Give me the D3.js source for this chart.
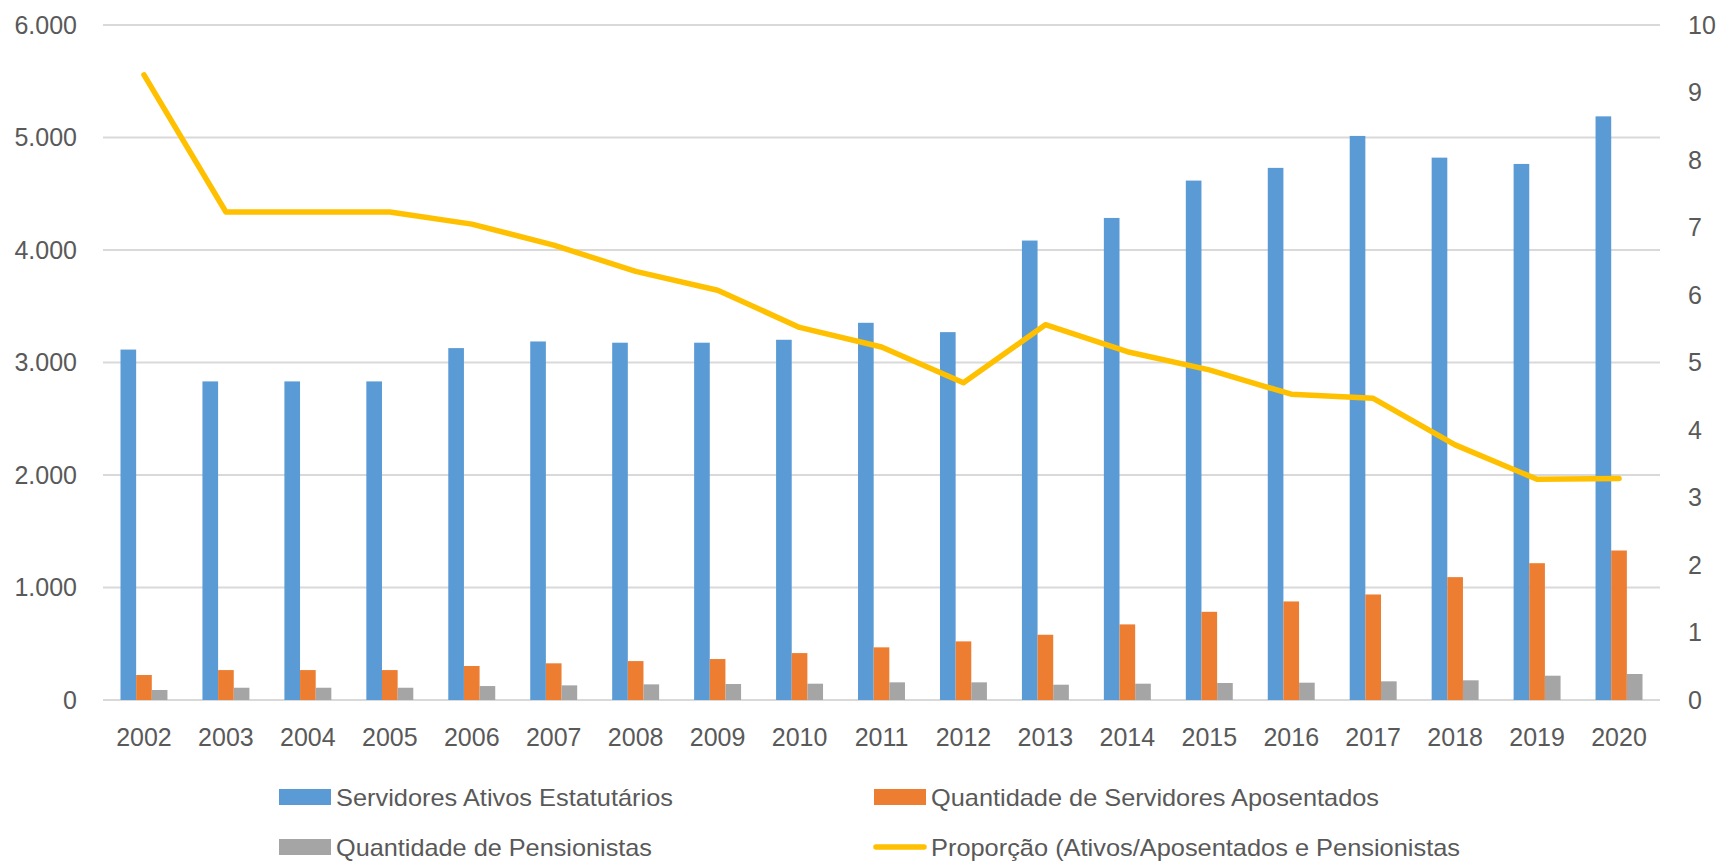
<!DOCTYPE html>
<html>
<head>
<meta charset="utf-8">
<script src="https://cdn.jsdelivr.net/npm/d3@7"></script>
<style>
  body { margin: 0; background: #fff; }
  text { font-family: "Liberation Sans", Arial, sans-serif; fill: #595959; }
</style>
</head>
<body>
<div id="graph_draw"></div>
<script>
// data
var years = ["2002","2003","2004","2005","2006","2007","2008","2009","2010","2011","2012","2013","2014","2015","2016","2017","2018","2019","2020"];
var ativos = [3115,2832,2832,2832,3128,3187,3176,3176,3202,3353,3270,4084,4285,4617,4730,5014,4821,4765,5188];
var aposentados = [222,266,266,266,302,326,346,364,417,468,521,580,672,784,876,938,1092,1216,1329];
var pensionistas = [89,109,109,109,124,130,139,142,145,157,157,136,145,151,154,166,175,216,231];
var proporcao = [9.26,7.23,7.23,7.23,7.05,6.74,6.35,6.07,5.52,5.23,4.70,5.56,5.16,4.89,4.53,4.47,3.78,3.27,3.28];
var leftTicks = [0,1000,2000,3000,4000,5000,6000];
var rightTicks = [0,1,2,3,4,5,6,7,8,9,10];
var seriesNames = ["Servidores Ativos Estatutários","Quantidade de Servidores Aposentados","Quantidade de Pensionistas","Proporção (Ativos/Aposentados e Pensionistas"];

var colors = ["#5B9BD5","#ED7D31","#A5A5A5","#FFC000"];

var W = 1723, H = 861;
var margin = {top: 25, right: 63, bottom: 161, left: 103},
    width = W - margin.left - margin.right,
    height = H - margin.top - margin.bottom;

var svg = d3.select("#graph_draw").append("svg")
    .attr("width", W)
    .attr("height", H);

var g = svg.append("g")
    .attr("transform", "translate(" + margin.left + "," + margin.top + ")");

// scales
var x0 = d3.scaleBand().domain(years).range([0, width]).padding(0);
var groupW = x0.bandwidth() * 0.573;
var x1 = d3.scaleBand().domain([0,1,2]).range([0, groupW]).padding(0);
var y = d3.scaleLinear().domain([0, 6000]).range([height, 0]);
var y2 = d3.scaleLinear().domain([0, 10]).range([height, 0]);

// gridlines
g.selectAll(".grid").data(leftTicks).enter().append("line")
    .attr("x1", 0).attr("x2", width)
    .attr("y1", function(d) { return y(d); })
    .attr("y2", function(d) { return y(d); })
    .attr("stroke", "#d9d9d9")
    .attr("stroke-width", 2);

// left axis
var yAxis = g.append("g")
    .call(d3.axisLeft(y).tickValues(leftTicks).tickSize(0).tickPadding(26)
        .tickFormat(function(d) { return d === 0 ? "0" : d3.format(",")(d).replace(/,/g, "."); }));
yAxis.select(".domain").remove();
yAxis.selectAll("text").style("font-size", "25px").attr("fill", "#595959");

// right axis
var y2Axis = g.append("g")
    .attr("transform", "translate(" + width + ",0)")
    .call(d3.axisRight(y2).tickValues(rightTicks).tickSize(0).tickPadding(28));
y2Axis.select(".domain").remove();
y2Axis.selectAll("text").style("font-size", "25px").attr("fill", "#595959");

// bottom axis
var xAxis = g.append("g")
    .attr("transform", "translate(0," + height + ")")
    .call(d3.axisBottom(x0).tickSize(0).tickPadding(28));
xAxis.select(".domain").remove();
xAxis.selectAll("text").style("font-size", "25px").attr("fill", "#595959");

// bars
var series = [ativos, aposentados, pensionistas];
series.forEach(function(vals, s) {
    g.selectAll(".bar" + s).data(vals).enter().append("rect")
        .attr("x", function(d, i) { return x0(years[i]) + (x0.bandwidth() - groupW) / 2 + x1(s); })
        .attr("width", x1.bandwidth())
        .attr("y", function(d) { return y(d); })
        .attr("height", function(d) { return height - y(d); })
        .attr("fill", colors[s]);
});

// line
var valueline = d3.line()
    .x(function(d, i) { return x0(years[i]) + x0.bandwidth() / 2; })
    .y(function(d) { return y2(d); });

g.append("path")
    .datum(proporcao)
    .attr("d", valueline)
    .attr("fill", "none")
    .attr("stroke", colors[3])
    .attr("stroke-width", 5.5)
    .attr("stroke-linejoin", "round")
    .attr("stroke-linecap", "round");

// legend
var legendItems = [
    {name: seriesNames[0], x: 279, y: 797, len: 337, type: "rect"},
    {name: seriesNames[1], x: 874, y: 797, len: 448, type: "rect"},
    {name: seriesNames[2], x: 279, y: 847, len: 316, type: "rect"},
    {name: seriesNames[3], x: 874, y: 847, len: 529, type: "line"}
];
var colorIdx = [0, 1, 2, 3];
var leg = svg.append("g");
legendItems.forEach(function(d, i) {
    if (d.type === "rect") {
        leg.append("rect").attr("x", d.x).attr("y", d.y - 8).attr("width", 52).attr("height", 16)
            .attr("fill", colors[colorIdx[i]]);
    } else {
        leg.append("line").attr("x1", d.x + 2).attr("x2", d.x + 50).attr("y1", d.y).attr("y2", d.y)
            .attr("stroke", colors[3]).attr("stroke-width", 5.5).attr("stroke-linecap", "round");
    }
    leg.append("text")
        .attr("x", d.x + 57)
        .attr("y", d.y + 9)
        .attr("textLength", d.len)
        .attr("lengthAdjust", "spacingAndGlyphs")
        .style("font-size", "24px")
        .text(d.name);
});
</script>
</body>
</html>
